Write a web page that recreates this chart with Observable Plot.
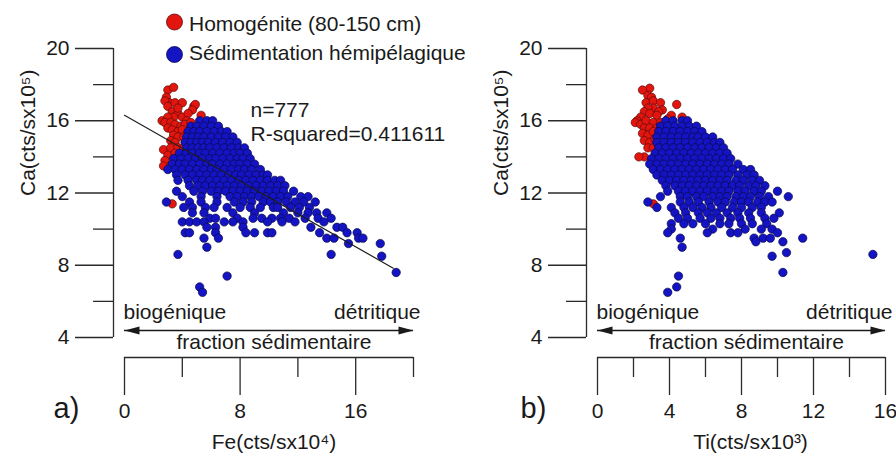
<!DOCTYPE html>
<html>
<head>
<meta charset="utf-8">
<script src="https://cdn.jsdelivr.net/npm/d3@7"></script>
<script src="https://cdn.jsdelivr.net/npm/@observablehq/plot@0.6"></script>
<style>
  body { margin: 0; background: #fff; }
  #wrap { position: relative; width: 896px; height: 453px; overflow: hidden; }
  #wrap > div { position: absolute; top: 0; }
</style>
</head>
<body>
<div id="wrap"><div id="pa" style="left:0"></div><div id="pb" style="left:470px"></div></div>
<script>
// ---------- scales / ticks ----------
const caDomain = [4, 20];
const caMajor = [4, 8, 12, 16, 20];
const caMinor = [6, 10, 14, 18];
const feDomain = [0, 20];
const feMajor = [0, 8, 16];
const feMinor = [4, 12, 20];
const tiDomain = [0, 16];
const tiMajor = [0, 4, 8, 12, 16];
const tiMinor = [2, 6, 10, 14];

// ---------- texts ----------
const legendLabels = ["Homogénite (80-150 cm)", "Sédimentation hémipélagique"];
const seriesColors = ["#e3160f", "#1414c4"];
const seriesStrokes = ["#5a0c0c", "#0a0a48"];
const yLabel = "Ca(cts/sx10⁵)";
const xLabels = ["Fe(cts/sx10⁴)", "Ti(cts/sx10³)"];
const panelTags = ["a)", "b)"];
const fractionTexts = ["biogénique", "détritique", "fraction sédimentaire"];
const statsFe = ["n=777", "R-squared=0.411611"];

// regression line of Ca vs Fe (as drawn)
const fitFe = { intercept: 16.3, slope: -0.455, from: 0, to: 18.6 };

// ---------- data : panel a) Fe vs Ca ----------
// homogénite points [Fe, Ca]
const homogeniteFe = [
  [3.0,17.7],[3.4,17.85],[2.9,17.3],[3.1,17.0],[2.8,17.1],[3.0,16.8],[3.5,17.0],[4.0,17.0],
  [4.8,16.8],[4.9,16.9],[4.7,16.6],[5.3,16.3],[3.3,16.5],[3.7,16.4],[3.7,16.7],[4.0,16.2],
  [4.4,16.4],[3.4,16.2],[4.3,16.0],[2.6,16.0],[3.0,16.2],[2.8,15.9],[3.2,15.9],[3.5,15.8],
  [3.9,15.7],[4.2,15.8],[4.6,15.9],[3.0,15.6],[3.3,15.5],[3.7,15.4],[4.0,15.5],[4.4,15.3],
  [3.4,15.2],[3.7,15.1],[4.1,15.1],[3.2,14.9],[3.5,14.8],[4.2,14.8],[2.7,14.4],[3.2,14.5],
  [3.7,14.5],[4.1,14.5],[3.0,14.1],[3.5,14.2],[3.9,14.1],[3.6,13.9],[2.8,13.8],[2.7,13.5],
  [3.2,13.5],[3.3,11.4]
];
// hémipélagique points, rows of [Ca, [Fe ...]]
const hemipelagiqueFe = [
  [16.0,[5.2,5.7,6.1]],
  [15.7,[4.6,5.0,5.5,6.0,6.5]],
  [15.4,[4.4,4.8,5.2,5.7,6.2,6.7,7.1]],
  [15.1,[4.3,4.7,5.1,5.5,6.0,6.5,7.0,7.5]],
  [14.8,[4.2,4.6,5.0,5.4,5.8,6.3,6.8,7.3,7.8]],
  [14.5,[4.3,4.7,5.1,5.5,5.9,6.4,6.9,7.4,7.9,8.3]],
  [14.2,[3.8,4.3,4.7,5.2,5.6,6.1,6.6,7.1,7.6,8.0,8.5]],
  [13.9,[3.4,3.9,4.4,4.9,5.4,5.9,6.3,6.8,7.3,7.8,8.2,8.7]],
  [13.6,[3.3,3.8,4.2,4.7,5.2,5.7,6.1,6.6,7.1,7.6,8.0,8.5,9.0]],
  [13.3,[3.0,3.5,4.0,4.5,5.0,5.5,6.0,6.4,6.9,7.4,7.9,8.3,8.8,9.4]],
  [13.0,[3.6,4.2,4.7,5.2,5.7,6.2,6.7,7.2,7.7,8.1,8.6,9.1,9.6,9.9]],
  [12.7,[3.7,4.4,5.0,5.4,5.9,6.4,6.9,7.4,7.9,8.4,8.9,9.4,9.9,10.4,10.8]],
  [12.4,[4.5,5.1,5.6,6.1,6.6,7.1,7.6,8.1,8.6,9.1,9.6,10.1,10.6,11.1]],
  [12.1,[3.6,4.8,5.4,6.0,6.5,7.0,7.5,8.0,8.5,9.0,9.5,10.0,10.5,11.0,11.7]],
  [11.8,[4.0,5.3,6.4,7.3,7.8,8.3,8.8,9.3,9.8,10.3,10.8,11.3,12.2,12.7]],
  [11.5,[2.9,4.5,5.3,6.4,7.6,8.2,8.8,9.6,10.1,10.6,11.2,11.8,12.4,13.2]],
  [11.2,[4.1,4.7,5.6,6.2,7.1,8.0,8.7,9.4,10.3,10.6,11.5,12.1,12.8]],
  [10.9,[4.7,5.5,7.5,9.0,11.0,12.0,12.7,13.3,14.0]],
  [10.6,[5.9,6.3,7.8,8.9,9.5,10.2,10.8,11.4,12.5,13.4,14.3]],
  [10.4,[4.0,4.5,5.0,5.5,6.9,7.5,8.2,9.9,10.9,11.8,13.8]],
  [10.1,[5.7,6.3,8.2,12.9,14.7,15.1]],
  [9.8,[4.2,4.5,6.3,8.4,9.0,9.9,10.2,13.5,15.4,16.1]],
  [9.5,[5.5,6.5,14.0,14.5,16.2,16.5]],
  [9.2,[15.5,17.7]],
  [9.0,[5.7]],
  [8.6,[3.7,14.3]],
  [8.5,[17.8]],
  [7.6,[18.8]],
  [7.4,[7.1]],
  [6.8,[5.2]],
  [6.5,[5.4]]
];

// ---------- data : panel b) Ti vs Ca ----------
const homogeniteTi = [
  [2.9,17.8],[2.5,17.7],[2.8,17.4],[3.0,17.3],[2.7,17.0],[3.1,17.1],[3.5,17.0],[4.4,16.9],
  [3.1,16.7],[2.8,16.7],[2.6,16.5],[3.6,16.6],[3.4,16.5],[2.4,16.2],[2.9,16.4],[3.3,16.3],
  [4.1,16.3],[4.7,16.2],[2.2,16.0],[2.1,15.9],[2.4,15.8],[2.7,16.0],[3.1,15.9],[3.5,15.9],
  [3.9,16.1],[2.6,15.6],[2.9,15.6],[3.3,15.6],[2.5,15.3],[2.8,15.2],[3.1,15.4],[2.6,14.9],
  [2.9,14.8],[3.2,15.0],[2.8,14.5],[3.1,14.5],[2.6,14.0],[2.3,14.0],[3.1,11.4]
];
const hemipelagiqueTi = [
  [16.0,[3.8,4.2,4.7,5.0]],
  [15.7,[3.5,3.9,4.3,4.7,5.1,5.5]],
  [15.4,[3.4,3.8,4.2,4.6,5.0,5.4,5.8]],
  [15.1,[3.3,3.7,4.1,4.5,4.9,5.3,5.6,6.0,6.4]],
  [14.8,[3.3,3.7,4.1,4.5,4.9,5.3,5.7,6.1,6.5,6.8]],
  [14.5,[3.4,3.8,4.2,4.6,5.0,5.4,5.8,6.2,6.6,7.0]],
  [14.2,[3.2,3.6,4.0,4.4,4.8,5.2,5.6,6.0,6.4,6.8,7.2]],
  [13.9,[3.0,3.4,3.8,4.2,4.6,5.0,5.4,5.8,6.2,6.6,7.0,7.4]],
  [13.6,[2.9,3.3,3.7,4.1,4.5,4.9,5.3,5.7,6.1,6.5,6.9,7.3,7.8]],
  [13.3,[3.1,3.5,3.9,4.3,4.7,5.1,5.5,5.9,6.3,6.7,7.1,7.5,8.1,8.5]],
  [13.0,[3.3,3.7,4.1,4.5,4.9,5.3,5.7,6.1,6.5,6.9,7.3,7.8,8.3,8.7]],
  [12.7,[3.6,4.0,4.4,4.8,5.2,5.6,6.0,6.4,6.8,7.2,7.7,8.1,8.6,9.0]],
  [12.4,[3.8,4.3,4.7,5.1,5.5,5.9,6.3,6.7,7.1,7.5,7.9,8.4,8.8,9.3]],
  [12.1,[3.9,4.5,4.9,5.3,5.7,6.1,6.5,6.9,7.3,7.8,8.2,8.7,9.1,10.0]],
  [11.8,[3.5,4.6,5.0,5.5,5.9,6.4,6.8,7.2,7.7,8.1,8.5,9.0,9.5,10.6]],
  [11.5,[2.8,4.6,5.1,5.6,6.2,6.7,7.1,7.6,8.0,8.4,8.9,9.3,9.7]],
  [11.2,[3.3,4.1,4.8,5.3,5.8,6.3,6.9,7.5,8.0,8.6,9.1]],
  [10.9,[4.3,4.9,5.6,6.1,6.6,7.2,7.8,8.4,9.1,10.1]],
  [10.6,[4.5,5.0,5.7,6.3,6.8,7.4,7.9,8.5,9.3,9.8]],
  [10.3,[4.1,4.8,5.3,6.0,6.8,7.3,8.0,8.6,9.4]],
  [10.0,[4.1,6.4,8.2,9.1,9.7]],
  [9.8,[3.9,6.1,7.4,7.8,10.0]],
  [9.5,[4.6,8.7,9.2,9.6,11.4]],
  [9.3,[8.8,10.3]],
  [9.0,[4.7]],
  [8.7,[10.5]],
  [8.6,[15.3]],
  [8.5,[9.7]],
  [7.6,[10.3]],
  [7.4,[4.5]],
  [6.8,[4.4]],
  [6.5,[3.9]]
];

// ---------- drawing ----------
const FONT = "'Liberation Sans', Arial, Helvetica, sans-serif";
const INK = "#1a1a1a";
const AX = { stroke: "#2a2a2a", strokeWidth: 1.3 };
const TXT = { text: d => d, fontSize: 21, fill: INK, lineAnchor: "middle" };

function panel(cfg) {
  const red = cfg.hom.map(([x, y]) => ({ x, y }));
  const blue = cfg.hemi.flatMap(([y, xs]) => xs.map(x => ({ x, y })));
  const marks = [
    // detached y axis
    Plot.ruleX([cfg.xDomain[0]], { dx: -11, ...AX }),
    Plot.axisY({ ticks: caMajor, tickSize: 38, tickPadding: 6, dx: -11, label: null, fontSize: 21, fill: INK, ...AX }),
    Plot.axisY({ ticks: caMinor, tickSize: 20, dx: -11, label: null, fill: "none", ...AX }),
    // detached x axis
    Plot.ruleY([caDomain[0]], { dy: 20, ...AX }),
    Plot.axisX({ ticks: cfg.xMajor, tickSize: 38, tickPadding: 8, dy: 20, label: null, fontSize: 21, fill: INK, ...AX }),
    Plot.axisX({ ticks: cfg.xMinor, tickSize: 20, dy: 20, label: null, fill: "none", ...AX }),
    // points
    Plot.dot(red, { x: "x", y: "y", r: 4.2, fill: seriesColors[0], stroke: seriesStrokes[0], strokeWidth: 0.7 }),
    Plot.dot(blue, { x: "x", y: "y", r: 4.2, fill: seriesColors[1], stroke: seriesStrokes[1], strokeWidth: 0.7 }),
    // fraction sédimentaire arrow + texts
    Plot.ruleY([caDomain[0]], { dy: -7, stroke: INK, strokeWidth: 1.3 }),
    Plot.vector([0], { frameAnchor: "bottom-left", dy: -7, rotate: -90, length: 15, r: 4, shape: "spike", anchor: "end", fill: INK, stroke: "none" }),
    Plot.vector([0], { frameAnchor: "bottom-right", dy: -7, rotate: 90, length: 15, r: 4, shape: "spike", anchor: "end", fill: INK, stroke: "none" }),
    Plot.text([fractionTexts[0]], { ...TXT, frameAnchor: "bottom-left", textAnchor: "start", dx: -1, dy: -25 }),
    Plot.text([fractionTexts[1]], { ...TXT, frameAnchor: "bottom-right", textAnchor: "end", dx: 7, dy: -25 }),
    Plot.text([fractionTexts[2]], { ...TXT, frameAnchor: "bottom", dx: 5, dy: 5 }),
    // axis titles and tag
    Plot.text([yLabel], { ...TXT, frameAnchor: "left", rotate: -90, dx: -96.5, dy: 3 }),
    Plot.text([cfg.xLabel], { ...TXT, frameAnchor: "bottom", dx: cfg.xLabelDx, dy: 105 }),
    Plot.text([cfg.tag], { ...TXT, frameAnchor: "bottom-left", textAnchor: "start", dx: cfg.tagDx, dy: 71, fontSize: 29 })
  ];
  if (cfg.fit) {
    const f = cfg.fit;
    const fitLine = [f.from, f.to].map(x => ({ x, y: f.intercept + f.slope * x }));
    marks.push(Plot.line(fitLine, { x: "x", y: "y", stroke: "#1e1e1e", strokeWidth: 1.2 }));
    // two-line statistics block
    marks.push(Plot.text([cfg.stats[0]], { ...TXT, frameAnchor: "top-left", textAnchor: "start", dx: 126, dy: 62 }));
    marks.push(Plot.text([cfg.stats[1]], { ...TXT, frameAnchor: "top-left", textAnchor: "start", dx: 126, dy: 86 }));
  }
  if (cfg.legend) {
    marks.push(Plot.dot([legendLabels[0]], { frameAnchor: "top-left", dx: 50, dy: -26.5, r: 8, fill: seriesColors[0], stroke: seriesStrokes[0], strokeWidth: 0.8 }));
    marks.push(Plot.text([legendLabels[0]], { ...TXT, frameAnchor: "top-left", textAnchor: "start", dx: 64.5, dy: -24.5 }));
    marks.push(Plot.dot([legendLabels[1]], { frameAnchor: "top-left", dx: 50, dy: 6, r: 8, fill: seriesColors[1], stroke: seriesStrokes[1], strokeWidth: 0.8 }));
    marks.push(Plot.text([legendLabels[1]], { ...TXT, frameAnchor: "top-left", textAnchor: "start", dx: 64.5, dy: 5 }));
  }
  return Plot.plot({
    width: cfg.width,
    height: 453,
    marginLeft: cfg.ml,
    marginRight: cfg.mr,
    marginTop: 48,
    marginBottom: 116,
    x: { domain: cfg.xDomain },
    y: { domain: caDomain },
    style: { fontFamily: FONT, fontSize: "21px", color: INK, background: "transparent", overflow: "visible" },
    marks
  });
}

document.getElementById("pa").appendChild(panel({
  hom: homogeniteFe, hemi: hemipelagiqueFe, xDomain: feDomain, xMajor: feMajor, xMinor: feMinor,
  xLabel: xLabels[0], xLabelDx: 5, tag: panelTags[0], tagDx: -71,
  width: 470, ml: 124, mr: 57, fit: fitFe, stats: statsFe, legend: true
}));
document.getElementById("pb").appendChild(panel({
  hom: homogeniteTi, hemi: hemipelagiqueTi, xDomain: tiDomain, xMajor: tiMajor, xMinor: tiMinor,
  xLabel: xLabels[1], xLabelDx: 9, tag: panelTags[1], tagDx: -77,
  width: 426, ml: 127, mr: 11, fit: null, legend: false
}));
</script>
</body>
</html>
